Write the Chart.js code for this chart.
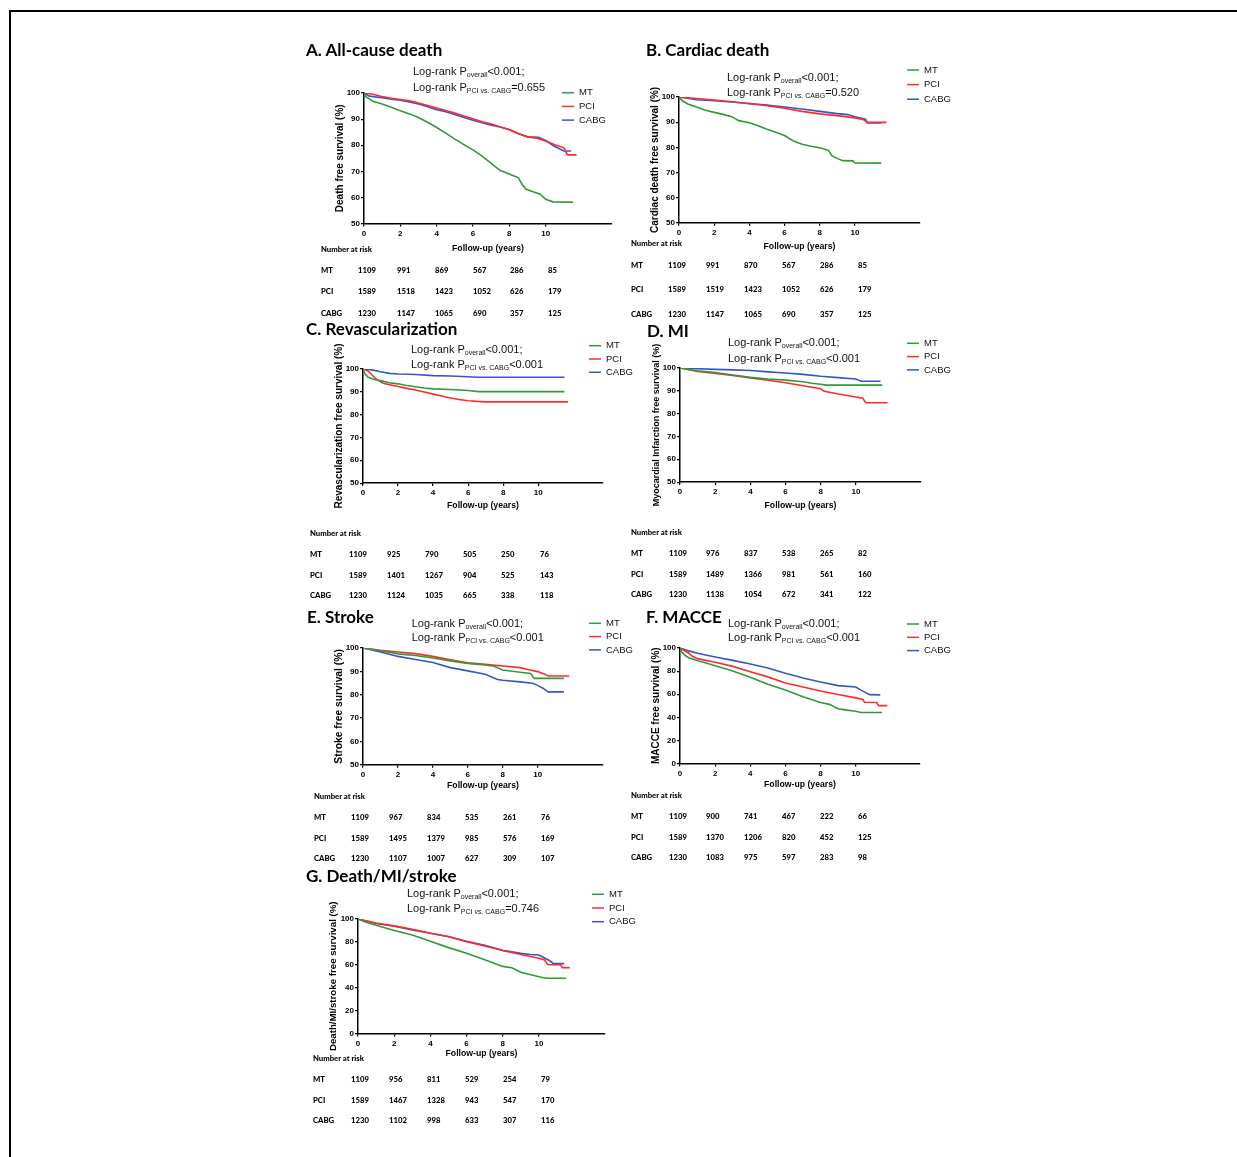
<!DOCTYPE html>
<html lang="en">
<head>
<meta charset="UTF-8">
<title>Kaplan-Meier curves: MT, PCI and CABG</title>
<script src="https://cdn.jsdelivr.net/npm/chart.js"></script>
<style>
    html, body { margin: 0; padding: 0; width: 1237px; height: 1157px; overflow: hidden; background: #fff; }
    #frame { position: absolute; left: 9px; top: 10px; width: 1300px; height: 1300px; border: 2px solid #000; }
    canvas { position: absolute; }
    .txt { position: absolute; white-space: nowrap; line-height: 1; transform: translateY(-50%); color: #000; }
    .title { font: 700 17px Lato, sans-serif; }
    .lr { font: 11px "Liberation Sans", Arial, sans-serif; color: #111; }
    .lr sub { font-size: 7px; vertical-align: -2px; line-height: 0; }
    .risk { font: 900 7.7px Lato, sans-serif; color: #000; }
</style>
</head>
<body>
<div id="frame"></div>
<script>
// survival curves: [years, % free]
var A_MT = [[0,100],[0.1,98.6],[0.5,96.8],[1,95.8],[1.5,94.5],[2,93.2],[2.5,92],[3,90.6],[3.5,88.8],[4,86.8],[4.5,84.6],[5,82.3],[5.5,80.2],[6,78.2],[6.5,75.8],[7,73],[7.5,70.3],[8,69],[8.5,67.5],[8.7,65],[8.9,63.2],[9.3,62.2],[9.7,61.2],[10,59.3],[10.4,58.3],[11.5,58.2]];
var A_PCI = [[0,100],[0.5,99.5],[1,98.6],[1.5,98],[2,97.5],[2.5,97],[3,96.2],[3.5,95.2],[4,94.2],[4.5,93.3],[5,92.3],[5.5,91.2],[6,90.1],[6.5,89],[7,88.1],[7.5,87],[8,86],[8.5,84.5],[9,83.2],[9.5,82.7],[10,81.6],[10.5,80.2],[11,79],[11.2,76.3],[11.7,76.3]];
var A_CABG = [[0,100],[0.3,98.8],[1,98.2],[1.5,97.6],[2,97.2],[2.5,96.6],[3,95.8],[3.5,94.7],[4,93.6],[4.5,92.8],[5,91.8],[5.5,90.6],[6,89.6],[6.5,88.6],[7,87.7],[7.5,87],[8,85.9],[8.5,84.4],[9,83.2],[9.6,83],[10,81.8],[10.5,79.5],[11,77.8],[11.4,77.8]];

var B_MT = [[0,100],[0.2,98.5],[0.5,97.2],[1,96],[1.5,94.7],[2,93.9],[2.5,93.1],[3,92.2],[3.4,90.6],[4,89.8],[4.5,88.6],[5,87.2],[5.5,86],[6,84.7],[6.5,82.5],[7,81.2],[7.5,80.4],[8,79.8],[8.5,78.8],[8.7,76.6],[9,75.6],[9.3,74.7],[9.9,74.6],[10,73.8],[11.5,73.7]];
var B_PCI = [[0,100],[1,99.4],[2,98.8],[3,98.1],[4,97.3],[5,96.5],[6,95.5],[7,94.3],[8,93.3],[9,92.6],[10,91.7],[10.5,91],[10.7,89.9],[11.8,89.9]];
var B_CABG = [[0,100],[1,98.9],[2,98.5],[3,98],[4,97.4],[5,96.8],[6,96],[7,95.2],[8,94.3],[9,93.4],[9.6,93],[10,92.1],[10.6,91.2],[10.7,89.7],[11.5,89.7]];

var C_MT = [[0,100],[0.1,98],[0.3,96.4],[0.6,95.5],[1,94.9],[1.5,94],[2,93.5],[2.5,92.8],[3,92.2],[3.5,91.7],[4,91.3],[5,91],[6,90.6],[6.6,90.1],[11.5,90.1]];
var C_PCI = [[0,100],[0.3,99],[0.5,97.5],[0.8,95.3],[1.2,93.6],[1.6,93],[2,92.3],[2.5,91.5],[3,90.8],[3.5,89.9],[4,89],[4.5,88.2],[5,87.3],[5.5,86.6],[6,86.1],[6.5,85.8],[7,85.6],[11.7,85.6]];
var C_CABG = [[0,100],[0.5,99.6],[1,98.8],[1.5,98.1],[2,97.8],[3,97.6],[4,97.1],[5,96.9],[6,96.6],[6.5,96.4],[11.5,96.4]];

var D_MT = [[0,100],[1,98.8],[2,98],[3,96.9],[4,95.9],[5,95.2],[6,94.7],[7,94],[7.5,93.3],[8,92.9],[8.3,92.5],[11.5,92.5]];
var D_PCI = [[0,100],[1,98.5],[2,97.6],[3,96.7],[4,95.6],[5,94.6],[6,93.5],[7,92.2],[8,90.9],[8.2,89.8],[9,88.6],[10,87.3],[10.4,86.8],[10.5,85.3],[10.6,84.8],[11.8,84.8]];
var D_CABG = [[0,100],[1,99.7],[2,99.4],[3,99.2],[4,98.9],[5,98.3],[6,97.8],[7,97.2],[8,96.4],[9,95.8],[10,95.2],[10.3,94.2],[11.4,94.2]];

var E_MT = [[0,100],[1,98.8],[2,97.5],[3,96.8],[4,95.7],[5,94.5],[6,93.4],[7,92.7],[7.5,92.2],[8,90.6],[9,89.6],[9.6,89.1],[9.8,87],[11.5,87]];
var E_PCI = [[0,100],[1,99],[2,98.3],[3,97.6],[4,96.4],[5,95],[6,93.7],[7,93],[8,92.3],[9,91.6],[9.5,90.7],[10,89.9],[10.4,88.8],[10.6,88],[11.8,88]];
var E_CABG = [[0,100],[1,98.3],[2,96.4],[3,95.1],[4,93.8],[5,91.6],[6,90.2],[7,88.8],[7.7,86.5],[8,86.2],[9,85.5],[9.7,84.9],[10,84],[10.3,82.8],[10.6,81.2],[11.5,81.2]];

var F_MT = [[0,100],[0.1,96.5],[0.3,93.5],[0.5,91.6],[1,89],[1.5,87],[2,84.7],[3,80.1],[4,74.6],[5,68.6],[6,63.7],[7,57.7],[8,52.8],[8.5,51.2],[9,47.4],[9.5,46.2],[10,45.3],[10.3,44.2],[11.5,44.2]];
var F_PCI = [[0,100],[0.5,95.5],[0.7,92.8],[1,90.8],[2,87.6],[3,84.1],[4,79.5],[5,75],[6,69.7],[7,66.3],[8,62.8],[9,59.7],[10,56.8],[10.4,55.5],[10.5,53],[11.2,52.8],[11.3,50.1],[11.8,50.1]];
var F_CABG = [[0,100],[0.5,97.5],[1,95.4],[2,92.2],[3,89.3],[4,86.2],[5,82.7],[6,78.1],[7,74.1],[8,70.6],[9,67.4],[10,66.2],[10.3,63.5],[10.8,59.6],[11.4,59.4]];

var G_MT = [[0,100],[0.3,98],[0.5,97],[1,94.5],[2,90],[3,86],[4,80.6],[5,75],[6,70],[7,64.5],[8,58.6],[8.5,57.5],[9,53.5],[9.5,51.5],[10,49.5],[10.4,48.3],[11.5,48.2]];
var G_PCI = [[0,100],[1,96.5],[2,94],[3,91],[4,87.5],[5,84.5],[6,80.2],[7,76.5],[8,72.5],[9,69],[10,65.8],[10.3,64.2],[10.5,60],[11.2,60],[11.3,57.5],[11.7,57.5]];
var G_CABG = [[0,100],[1,96],[2,93.6],[3,90.5],[4,87.5],[5,84.7],[6,80.6],[7,77],[8,72.6],[9,70],[9.5,69],[10,68.5],[10.3,66],[10.6,63.5],[10.8,61],[11.4,61]];

// number at risk at 0, 2, 4, 6, 8, 10 years
var A_N = [[1109,991,869,567,286,85],[1589,1518,1423,1052,626,179],[1230,1147,1065,690,357,125]];
var B_N = [[1109,991,870,567,286,85],[1589,1519,1423,1052,626,179],[1230,1147,1065,690,357,125]];
var C_N = [[1109,925,790,505,250,76],[1589,1401,1267,904,525,143],[1230,1124,1035,665,338,118]];
var D_N = [[1109,976,837,538,265,82],[1589,1489,1366,981,561,160],[1230,1138,1054,672,341,122]];
var E_N = [[1109,967,834,535,261,76],[1589,1495,1379,985,576,169],[1230,1107,1007,627,309,107]];
var F_N = [[1109,900,741,467,222,66],[1589,1370,1206,820,452,125],[1230,1083,975,597,283,98]];
var G_N = [[1109,956,811,529,254,79],[1589,1467,1328,943,547,170],[1230,1102,998,633,307,116]];

var GROUPS = ['MT', 'PCI', 'CABG'];
var COLORS = ['#2f9a3a', '#ff2b2b', '#3656c8'];
var X_TICKS_MAX = 10;

// layout of the seven panels (page pixels)
var panels = [
    { title: 'A. All-cause death', tx: 306, ty: 49, area: [364, 93, 612, 223], xMax: 13.65, yMin: 50, yStep: 10, yFont: 10, hx: 30.5,
      yTitle: 'Death free survival (%)', series: [A_MT, A_PCI, A_CABG], legend: [562, 92.7, 13.7], lr: [413, 71, 87.3], p2: '=0.655',
      risk: A_N, tab: { lx: 321, hy: 249, cols: [358, 397, 435, 473, 510, 548], rows: [270, 291, 313] } },
    { title: 'B. Cardiac death', tx: 646, ty: 49, area: [679, 97, 920, 222], xMax: 13.7, yMin: 50, yStep: 10, yFont: 10, hx: 29.2,
      yTitle: 'Cardiac death free survival (%)', series: [B_MT, B_PCI, B_CABG], legend: [907, 70, 14.6], lr: [727, 76.5, 91.5], p2: '=0.520',
      risk: B_N, tab: { lx: 631, hy: 243, cols: [668, 706, 744, 782, 820, 858], rows: [265, 289, 314] } },
    { title: 'C. Revascularization', tx: 306, ty: 328, area: [363, 369, 603, 483], xMax: 13.7, yMin: 50, yStep: 10, yFont: 10, hx: 27.9,
      yTitle: 'Revascularization free survival (%)', series: [C_MT, C_PCI, C_CABG], legend: [589, 345.7, 13.3], lr: [411, 349, 364.3], p2: '&lt;0.001',
      risk: C_N, tab: { lx: 310, hy: 533, cols: [349, 387, 425, 463, 501, 540], rows: [554, 575, 595] } },
    { title: 'D. MI', tx: 647, ty: 330, area: [680, 368, 921, 482], xMax: 13.7, yMin: 50, yStep: 10, yFont: 9, hx: 28.9,
      yTitle: 'Myocardial Infarction free survival (%)', series: [D_MT, D_PCI, D_CABG], legend: [907, 343.3, 13.3], lr: [728, 342.3, 357.7], p2: '&lt;0.001',
      risk: D_N, tab: { lx: 631, hy: 532, cols: [669, 706, 744, 782, 820, 858], rows: [553, 574, 594] } },
    { title: 'E. Stroke', tx: 307, ty: 616, area: [363, 648, 603, 764], xMax: 13.74, yMin: 50, yStep: 10, yFont: 10.3, hx: 26.2,
      yTitle: 'Stroke free survival (%)', series: [E_MT, E_PCI, E_CABG], legend: [589, 623.3, 13.3], lr: [411.7, 622.7, 636.7], p2: '&lt;0.001',
      risk: E_N, tab: { lx: 314, hy: 796, cols: [351, 389, 427, 465, 503, 541], rows: [817, 838, 858] } },
    { title: 'F. MACCE', tx: 646, ty: 616, area: [680, 648, 920, 763], xMax: 13.66, yMin: 0, yStep: 20, yFont: 10, hx: 26.5,
      yTitle: 'MACCE free survival (%)', series: [F_MT, F_PCI, F_CABG], legend: [907, 624, 13.3], lr: [728, 622.7, 636.7], p2: '&lt;0.001',
      risk: F_N, tab: { lx: 631, hy: 795, cols: [669, 706, 744, 782, 820, 858], rows: [816, 837, 857] } },
    { title: 'G. Death/MI/stroke', tx: 306, ty: 875, area: [358, 919, 605, 1033], xMax: 13.65, yMin: 0, yStep: 20, yFont: 9.7, hx: 25.5,
      yTitle: 'Death/MI/stroke free survival (%)', series: [G_MT, G_PCI, G_CABG], legend: [592, 894.3, 13.7], lr: [407, 893.3, 908.3], p2: '=0.746',
      risk: G_N, tab: { lx: 313, hy: 1058, cols: [351, 389, 427, 465, 503, 541], rows: [1079, 1100, 1120] } }
];

// right padding leaves room for the legend that sits past the x axis end
var PAD = { left: 10, right: 50, top: 60, bottom: 40 };

Chart.defaults.font.family = '"Liberation Sans", Arial, sans-serif';
Chart.defaults.color = '#000';

// legend drawn inside the plot, top right, like the GraphPad export
var kmLegend = {
    id: 'kmLegend',
    afterDraw: function(chart, args, o) {
        var ctx = chart.ctx;
        ctx.save();
        ctx.font = '9.5px "Liberation Sans", Arial, sans-serif';
        ctx.textBaseline = 'middle';
        chart.data.datasets.forEach(function(ds, i) {
            var y = o.y + i * o.dy;
            ctx.strokeStyle = ds.borderColor;
            ctx.lineWidth = 1.5;
            ctx.beginPath();
            ctx.moveTo(o.x, y);
            ctx.lineTo(o.x + 12, y);
            ctx.stroke();
            ctx.fillStyle = '#111';
            ctx.fillText(ds.label, o.x + 17, y);
        });
        ctx.restore();
    }
};

function addText(cls, html, x, y) {
    var d = document.createElement('div');
    d.className = 'txt ' + cls;
    d.innerHTML = html;
    d.style.left = x + 'px';
    d.style.top = y + 'px';
    document.body.appendChild(d);
}

panels.forEach(function(p) {
    var l = p.area[0], t = p.area[1], r = p.area[2], b = p.area[3];
    var wy = Math.round(24 + 0.6 * p.yFont);
    var cx = l - wy - PAD.left, cy = t - PAD.top;

    var cv = document.createElement('canvas');
    cv.width = (r - l) + wy + PAD.left + PAD.right;
    cv.height = Math.ceil((b - t) + p.hx + PAD.top + PAD.bottom);
    cv.style.left = cx + 'px';
    cv.style.top = cy + 'px';
    document.body.appendChild(cv);

    var axisGrid = { display: true, drawOnChartArea: false, drawTicks: true, tickLength: 3, color: '#000', lineWidth: 1.2 };
    var axisBorder = { display: true, color: '#000', width: 1.5 };

    new Chart(cv, {
        type: 'line',
        data: {
            datasets: p.series.map(function(s, i) {
                return {
                    label: GROUPS[i],
                    data: s.map(function(pt) { return { x: pt[0], y: pt[1] }; }),
                    borderColor: COLORS[i],
                    borderWidth: 1.6,
                    pointRadius: 0,
                    tension: 0,
                    fill: false
                };
            })
        },
        options: {
            responsive: false,
            animation: false,
            devicePixelRatio: 1,
            layout: { padding: PAD },
            plugins: {
                legend: { display: false },
                tooltip: { enabled: false },
                kmLegend: { x: p.legend[0] - cx, y: p.legend[1] - cy, dy: p.legend[2] }
            },
            scales: {
                x: {
                    type: 'linear', min: 0, max: p.xMax,
                    ticks: { stepSize: 2, padding: 2, font: { size: 8, weight: 'bold' } },
                    afterBuildTicks: function(s) { s.ticks = s.ticks.filter(function(k) { return k.value <= X_TICKS_MAX; }); },
                    afterFit: function(s) { s.height = p.hx; },
                    grid: axisGrid, border: axisBorder,
                    title: { display: true, text: 'Follow-up (years)', padding: 0, font: { size: 8.7, weight: 'bold' } }
                },
                y: {
                    type: 'linear', min: p.yMin, max: 100,
                    ticks: { stepSize: p.yStep, padding: 1, font: { size: 8, weight: 'bold' } },
                    afterFit: function(s) { s.width = wy; },
                    grid: axisGrid, border: axisBorder,
                    title: { display: true, text: p.yTitle, padding: 0, font: { size: p.yFont, weight: 'bold' } }
                }
            }
        },
        plugins: [kmLegend]
    });

    addText('title', p.title, p.tx, p.ty);
    addText('lr', 'Log-rank P<sub>overall</sub>&lt;0.001;', p.lr[0], p.lr[1]);
    addText('lr', 'Log-rank P<sub>PCI vs. CABG</sub>' + p.p2, p.lr[0], p.lr[2]);

    addText('risk', 'Number at risk', p.tab.lx, p.tab.hy);
    p.risk.forEach(function(row, i) {
        addText('risk', GROUPS[i], p.tab.lx, p.tab.rows[i]);
        row.forEach(function(n, j) {
            addText('risk', String(n), p.tab.cols[j], p.tab.rows[i]);
        });
    });
});
</script>
</body>
</html>
